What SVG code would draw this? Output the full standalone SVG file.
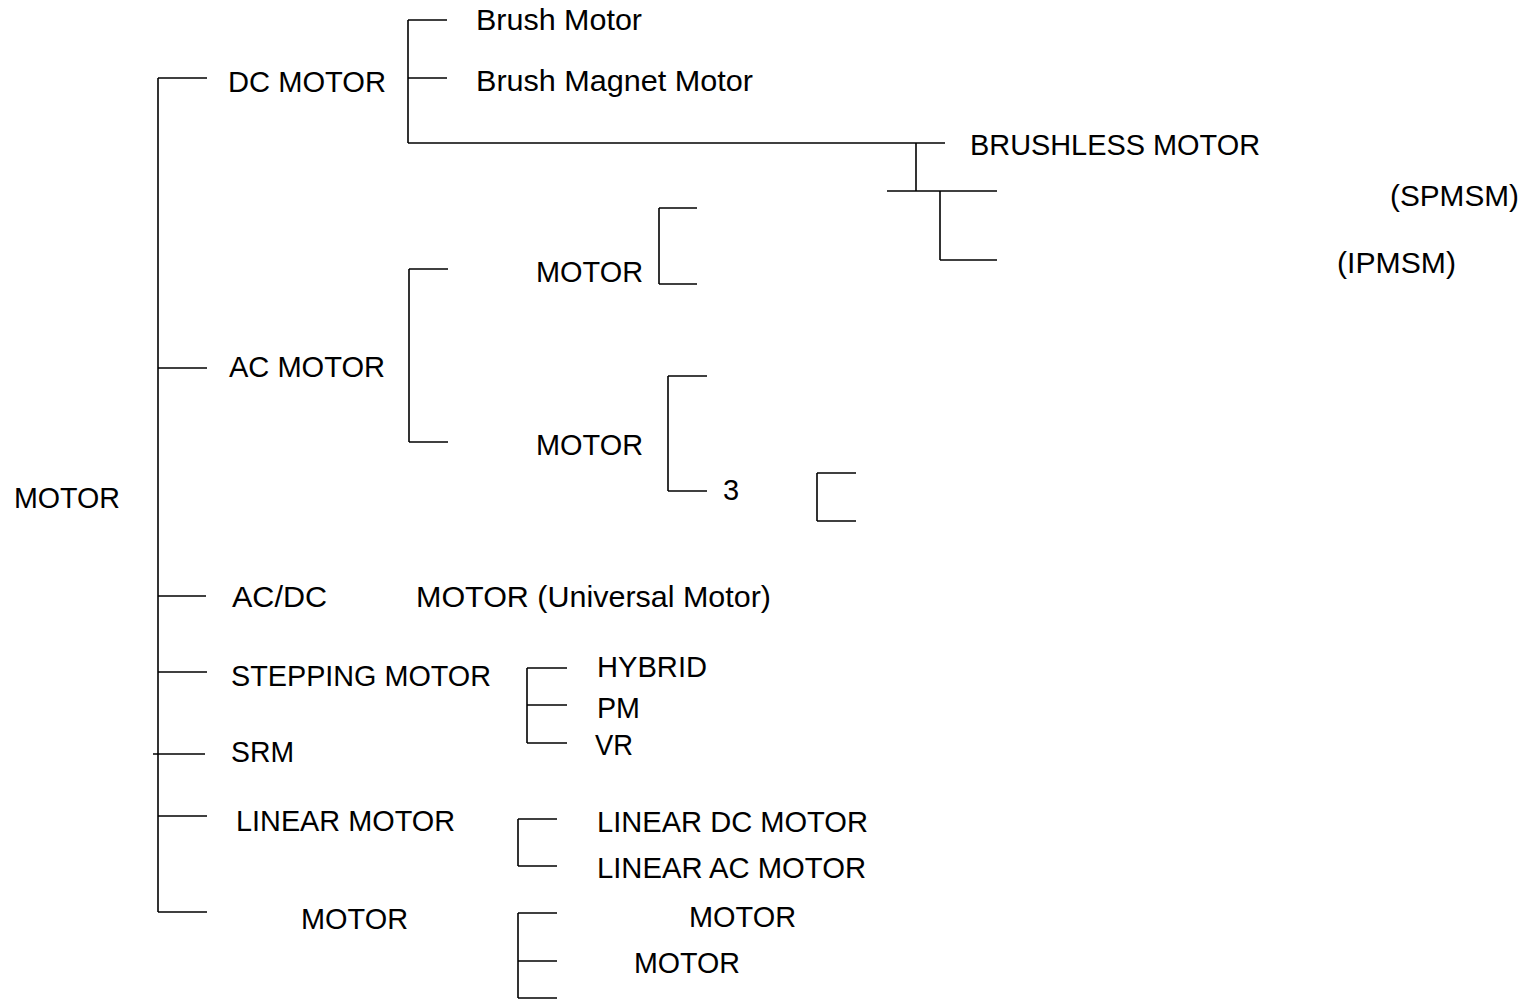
<svg xmlns="http://www.w3.org/2000/svg" width="1529" height="1001" viewBox="0 0 1529 1001">
<style>
.c line{stroke:#000;stroke-width:1.6;fill:none}
text{font-family:"Liberation Sans",Arial,sans-serif;font-size:29px;fill:#000}
</style>
<rect width="1529" height="1001" fill="#fff"/>
<g class="c" id="connectors">
<line x1="158" y1="78" x2="158" y2="912"/>
<line x1="158" y1="78" x2="207" y2="78"/>
<line x1="158" y1="368" x2="207" y2="368"/>
<line x1="158" y1="596" x2="206" y2="596"/>
<line x1="158" y1="672" x2="207" y2="672"/>
<line x1="153" y1="754" x2="205" y2="754"/>
<line x1="158" y1="816" x2="207" y2="816"/>
<line x1="158" y1="912" x2="207" y2="912"/>
<line x1="408" y1="20" x2="408" y2="143"/>
<line x1="408" y1="20" x2="447" y2="20"/>
<line x1="408" y1="78" x2="447" y2="78"/>
<line x1="408" y1="143" x2="945" y2="143"/>
<line x1="916" y1="143" x2="916" y2="191"/>
<line x1="887" y1="191" x2="997" y2="191"/>
<line x1="940" y1="191" x2="940" y2="260"/>
<line x1="940" y1="260" x2="997" y2="260"/>
<line x1="659" y1="208" x2="659" y2="284"/>
<line x1="659" y1="208" x2="697" y2="208"/>
<line x1="659" y1="284" x2="697" y2="284"/>
<line x1="409" y1="269" x2="409" y2="442"/>
<line x1="409" y1="269" x2="448" y2="269"/>
<line x1="409" y1="442" x2="448" y2="442"/>
<line x1="668" y1="376" x2="668" y2="491"/>
<line x1="668" y1="376" x2="707" y2="376"/>
<line x1="668" y1="491" x2="707" y2="491"/>
<line x1="817" y1="473" x2="817" y2="521"/>
<line x1="817" y1="473" x2="856" y2="473"/>
<line x1="817" y1="521" x2="856" y2="521"/>
<line x1="527" y1="668" x2="527" y2="743"/>
<line x1="527" y1="668" x2="567" y2="668"/>
<line x1="527" y1="705" x2="567" y2="705"/>
<line x1="527" y1="743" x2="567" y2="743"/>
<line x1="518" y1="819" x2="518" y2="866"/>
<line x1="518" y1="819" x2="557" y2="819"/>
<line x1="518" y1="866" x2="557" y2="866"/>
<line x1="518" y1="913" x2="518" y2="998"/>
<line x1="518" y1="913" x2="557" y2="913"/>
<line x1="518" y1="961" x2="557" y2="961"/>
<line x1="518" y1="998" x2="557" y2="998"/>
</g>
<g id="n-motor"><text x="14" y="508" textLength="106" lengthAdjust="spacingAndGlyphs">MOTOR</text></g>
<g id="n-dc"><text x="228" y="92" textLength="158" lengthAdjust="spacingAndGlyphs">DC MOTOR</text></g>
<g id="n-brush"><text x="476" y="30" textLength="166" lengthAdjust="spacingAndGlyphs">Brush Motor</text></g>
<g id="n-brushmag"><text x="476" y="91" textLength="277" lengthAdjust="spacingAndGlyphs">Brush Magnet Motor</text></g>
<g id="n-brushless"><text x="970" y="155" textLength="290" lengthAdjust="spacingAndGlyphs">BRUSHLESS MOTOR</text></g>
<g id="n-spmsm"><text x="1390" y="206" textLength="129" lengthAdjust="spacingAndGlyphs">(SPMSM)</text></g>
<g id="n-ipmsm"><text x="1337" y="273" textLength="119" lengthAdjust="spacingAndGlyphs">(IPMSM)</text></g>
<g id="n-ac"><text x="229" y="377" textLength="156" lengthAdjust="spacingAndGlyphs">AC MOTOR</text></g>
<g id="n-ac1"><text x="536" y="282" textLength="107" lengthAdjust="spacingAndGlyphs">MOTOR</text></g>
<g id="n-ac2"><text x="536" y="455" textLength="107" lengthAdjust="spacingAndGlyphs">MOTOR</text></g>
<g id="n-three"><text x="723" y="500">3</text></g>
<g id="n-acdc"><text x="232" y="607" textLength="95" lengthAdjust="spacingAndGlyphs">AC/DC</text><text x="416" y="607" textLength="355" lengthAdjust="spacingAndGlyphs">MOTOR (Universal Motor)</text></g>
<g id="n-step"><text x="231" y="686" textLength="260" lengthAdjust="spacingAndGlyphs">STEPPING MOTOR</text></g>
<g id="n-hybrid"><text x="597" y="677" textLength="110" lengthAdjust="spacingAndGlyphs">HYBRID</text></g>
<g id="n-pm"><text x="597" y="718" textLength="43" lengthAdjust="spacingAndGlyphs">PM</text></g>
<g id="n-vr"><text x="595" y="755" textLength="38" lengthAdjust="spacingAndGlyphs">VR</text></g>
<g id="n-srm"><text x="231" y="762" textLength="63" lengthAdjust="spacingAndGlyphs">SRM</text></g>
<g id="n-linear"><text x="236" y="831" textLength="219" lengthAdjust="spacingAndGlyphs">LINEAR MOTOR</text></g>
<g id="n-lindc"><text x="597" y="832" textLength="271" lengthAdjust="spacingAndGlyphs">LINEAR DC MOTOR</text></g>
<g id="n-linac"><text x="597" y="878" textLength="269" lengthAdjust="spacingAndGlyphs">LINEAR AC MOTOR</text></g>
<g id="n-other"><text x="301" y="929" textLength="107" lengthAdjust="spacingAndGlyphs">MOTOR</text></g>
<g id="n-other1"><text x="689" y="927" textLength="107" lengthAdjust="spacingAndGlyphs">MOTOR</text></g>
<g id="n-other2"><text x="634" y="973" textLength="106" lengthAdjust="spacingAndGlyphs">MOTOR</text></g>
</svg>
